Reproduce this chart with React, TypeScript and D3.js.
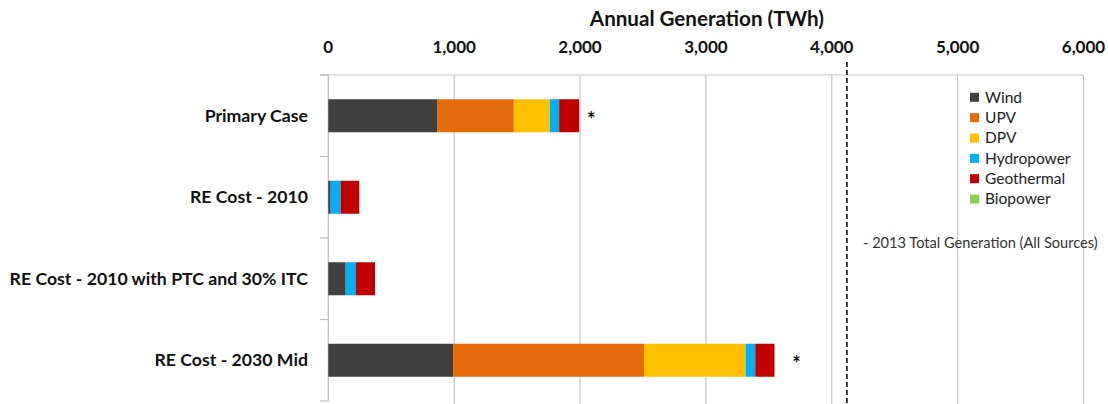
import React from "react";
import * as d3 from "d3";

const categories = ["Primary Case", "RE Cost - 2010", "RE Cost - 2010 with PTC and 30% ITC", "RE Cost - 2030 Mid"];
const seriesNames = ["Wind", "UPV", "DPV", "Hydropower", "Geothermal", "Biopower"];
const seriesColors = ["#404040", "#E46C0A", "#FFC000", "#00B0F0", "#C00000", "#92D050"];
const wind = [868, 19, 138, 992];
const upv = [606, 0, 0, 1516];
const dpv = [286, 0, 0, 807];
const hydro = [74, 79, 82, 77];
const geothermal = [159, 148, 151, 153];
const biopower = [0, 0, 0, 0];
const asteriskAt = [2090, null, null, 3720];
const xTicks = [0, 1000, 2000, 3000, 4000, 5000, 6000];
const totalGeneration2013 = 4120;
const annotationText = "- 2013 Total Generation (All Sources)";
const axisTitle = "Annual Generation (TWh)";

const W = 1108, H = 404;
const FONT = "Lato, 'Open Sans', sans-serif";

export default function App() {
  const x = d3.scaleLinear().domain([0, 6000]).range([328.3, 1083.5]);
  const y = d3.scaleBand<string>().domain(categories).range([75, 401]).paddingInner(0.595).paddingOuter(0.2975);
  const yOuter = d3.scaleBand<string>().domain(categories).range([75, 401]);
  const table = categories.map((c, i) => {
    const row: any = { cat: c };
    const vals = [wind, upv, dpv, hydro, geothermal, biopower];
    seriesNames.forEach((s, j) => (row[s] = vals[j][i]));
    return row;
  });
  const stacked = d3.stack().keys(seriesNames)(table);
  const fmt = d3.format(",");
  const boundaries = [75, ...categories.map((c) => (yOuter(c) as number) + yOuter.bandwidth())];
  return (
    <svg width={W} height={H} style={{ position: "absolute", left: 0, top: 0, background: "#fff" }} fontFamily={FONT}>
      <rect width={W} height={H} fill="#fff" />
      {/* gridlines */}
      {xTicks.slice(1).map((t) => (
        <line key={t} x1={x(t)} x2={x(t)} y1={75} y2={H} stroke="#c6c6c6" strokeWidth={1.2} />
      ))}
      <line x1={320} x2={x(6000)} y1={75} y2={75} stroke="#c6c6c6" strokeWidth={1.2} />
      {/* y axis */}
      <line x1={x(0)} x2={x(0)} y1={75} y2={401} stroke="#bdbdbd" strokeWidth={1.2} />
      {boundaries.map((b, i) => (
        <line key={i} x1={320} x2={x(0)} y1={b} y2={b} stroke="#bdbdbd" strokeWidth={1.2} />
      ))}
      {/* bars */}
      {stacked.map((layer, j) => (
        <g key={layer.key} fill={seriesColors[j]}>
          {layer.map((d, i) => (
            <rect key={i} x={x(d[0])} width={Math.max(0, x(d[1]) - x(d[0]))} y={y(categories[i])} height={y.bandwidth()} />
          ))}
        </g>
      ))}
      {/* dashed line */}
      <line x1={x(totalGeneration2013)} x2={x(totalGeneration2013)} y1={62} y2={H} stroke="#222" strokeWidth={1.8} strokeDasharray="5,3" />
      {/* asterisks */}
      {asteriskAt.map((v, i) =>
        v == null ? null : (
          <text key={i} x={x(v)} y={(y(categories[i]) as number) + y.bandwidth() / 2 + 11} fontSize={20} fontWeight="bold" textAnchor="middle" fill="#111">*</text>
        )
      )}
      {/* category labels */}
      {categories.map((c) => (
        <text key={c} x={308} y={(yOuter(c) as number) + yOuter.bandwidth() / 2} dy="0.35em" textAnchor="end" fontSize={17.7} fontWeight="bold" fill="#111">{c}</text>
      ))}
      {/* x ticks */}
      {xTicks.map((t) => (
        <text key={t} x={x(t)} y={47} dy="0.35em" textAnchor="middle" fontSize={17} fontWeight="bold" fill="#111">{fmt(t)}</text>
      ))}
      <text x={x(3000) + 1} y={19} dy="0.35em" textAnchor="middle" fontSize={20.6} fontWeight="bold" fill="#111">{axisTitle}</text>
      {/* legend */}
      {seriesNames.map((s, j) => (
        <g key={s} transform={`translate(970, ${97.3 + j * 20.35})`}>
          <rect x={0} y={-4.5} width={9} height={9} fill={seriesColors[j]} />
          <text x={15} y={0} dy="0.35em" fontSize={15.5} fill="#222">{s}</text>
        </g>
      ))}
      <text x={863} y={243} dy="0.35em" fontSize={14.6} fill="#333">{annotationText}</text>
    </svg>
  );
}
